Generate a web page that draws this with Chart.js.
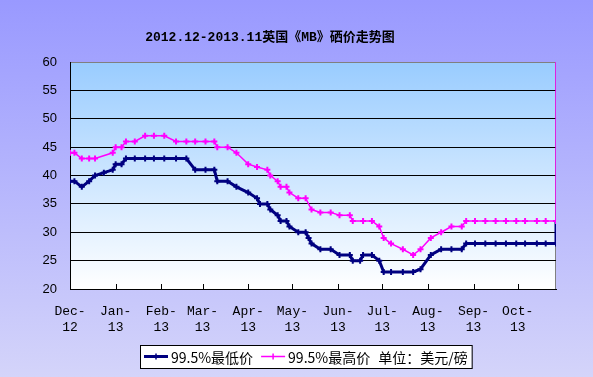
<!DOCTYPE html>
<html>
<head>
<meta charset="utf-8">
<script src="https://cdn.jsdelivr.net/npm/chart.js@4.4.1/dist/chart.umd.min.js"></script>
<style>
  html, body { margin: 0; padding: 0; }
  body {
    width: 593px; height: 377px; overflow: hidden;
    background: linear-gradient(to bottom, #9999ff 0%, #d4d4fa 100%);
  }
  #wrap { position: relative; width: 593px; height: 377px; }
</style>
</head>
<body>
<div id="wrap"><canvas id="seleniumChart"></canvas></div>

<script>
  const chartTitle = "2012.12-2013.11英国《MB》硒价走势图";
  const lowLabel = "99.5%最低价";
  const highLabel = "99.5%最高价";
  const unitText = "单位：美元/磅";

  // quote dates (the last date repeats: the series shoot up at the right edge)
  const dates = [
    "2012-12-01", "2012-12-04", "2012-12-09", "2012-12-14", "2012-12-18", "2012-12-24",
    "2012-12-30", "2013-01-01", "2013-01-05", "2013-01-08", "2013-01-14", "2013-01-21",
    "2013-01-27", "2013-02-03", "2013-02-11", "2013-02-18", "2013-02-24", "2013-03-03",
    "2013-03-09", "2013-03-11", "2013-03-18", "2013-03-24", "2013-04-01", "2013-04-07",
    "2013-04-09", "2013-04-14", "2013-04-16", "2013-04-21", "2013-04-23", "2013-04-27",
    "2013-04-29", "2013-05-05", "2013-05-10", "2013-05-12", "2013-05-14", "2013-05-20",
    "2013-05-27", "2013-06-02", "2013-06-09", "2013-06-11", "2013-06-16", "2013-06-18",
    "2013-06-24", "2013-06-29", "2013-07-02", "2013-07-07", "2013-07-15", "2013-07-22",
    "2013-07-27", "2013-08-03", "2013-08-10", "2013-08-17", "2013-08-24", "2013-08-27",
    "2013-09-02", "2013-09-09", "2013-09-16", "2013-09-23", "2013-09-30", "2013-10-06",
    "2013-10-14", "2013-10-20", "2013-10-27", "2013-10-27"
  ];
  const lowPrice = [
    39, 39, 38, 39, 40, 40.5,
    41, 42, 42, 43, 43, 43,
    43, 43, 43, 43, 41, 41,
    41, 39, 39, 38, 37, 36,
    35, 35, 34, 33, 32, 32,
    31, 30, 30, 29, 28, 27,
    27, 26, 26, 25, 25, 26,
    26, 25, 23, 23, 23, 23,
    23.5, 26, 27, 27, 27, 28,
    28, 28, 28, 28, 28, 28,
    28, 28, 28, 32
  ];
  const highPrice = [
    44, 44, 43, 43, 43, null,
    44, 45, 45, 46, 46, 47,
    47, 47, 46, 46, 46, 46,
    46, 45, 45, 44, 42, 41.5,
    null, 41, 40, 39, 38, 38,
    37, 36, 36, null, 34, 33.5,
    33.5, 33, 33, 32, null, 32,
    32, 31, 29, 28, 27, 26,
    27, 29, 30, 31, 31, 32,
    32, 32, 32, 32, 32, 32,
    32, 32, 32, 62
  ];

  const monthTicks = [
    "2012-12-01", "2013-01-01", "2013-02-01", "2013-03-01", "2013-04-01", "2013-05-01",
    "2013-06-01", "2013-07-01", "2013-08-01", "2013-09-01", "2013-10-01"
  ];
  const monthLabels = [
    ["Dec-", "12"], ["Jan-", "13"], ["Feb-", "13"], ["Mar-", "13"], ["Apr-", "13"], ["May-", "13"],
    ["Jun-", "13"], ["Jul-", "13"], ["Aug-", "13"], ["Sep-", "13"], ["Oct-", "13"]
  ];

  const startDay = Date.UTC(2012, 11, 1);
  function dayOf(s) {
    const [y, m, d] = s.split("-").map(Number);
    return (Date.UTC(y, m - 1, d) - startDay) / 864e5;
  }
  const tickDays = monthTicks.map(dayOf);

  // plot area gradient, grey frame, inward tick marks
  const plotFrame = {
    id: "plotFrame",
    beforeDraw(chart) {
      const { ctx, chartArea: a } = chart;
      const g = ctx.createLinearGradient(0, a.top, 0, a.bottom);
      g.addColorStop(0, "#99ccff");
      g.addColorStop(1, "#ffffff");
      ctx.save();
      ctx.fillStyle = g;
      ctx.fillRect(a.left, a.top, a.right - a.left, a.bottom - a.top);
      ctx.strokeStyle = "#808080";
      ctx.lineWidth = 1;
      ctx.strokeRect(a.left + 0.5, a.top + 0.5, a.right - a.left - 1, a.bottom - a.top);
      ctx.restore();
    },
    beforeDatasetsDraw(chart) {
      const { ctx, chartArea: a, scales } = chart;
      ctx.save();
      ctx.strokeStyle = "#000";
      ctx.lineWidth = 1;
      tickDays.forEach(d => {
        const x = Math.round(scales.x.getPixelForValue(d)) + 0.5;
        ctx.beginPath();
        ctx.moveTo(x, a.bottom);
        ctx.lineTo(x, a.bottom - 5);
        ctx.stroke();
      });
      ctx.restore();
    }
  };

  // title and boxed legend
  const titleAndLegend = {
    id: "titleAndLegend",
    afterDraw(chart) {
      const { ctx } = chart;
      ctx.save();
      ctx.fillStyle = "#000";
      ctx.font = 'bold 13px "Liberation Mono", "Noto Sans CJK SC"';
      ctx.textAlign = "center";
      ctx.textBaseline = "middle";
      ctx.fillText(chartTitle, 270, 38);

      ctx.font = '14px "Noto Sans CJK SC"';
      ctx.textAlign = "left";
      const sets = [chart.data.datasets[0], chart.data.datasets[1]];
      let w = 4;
      sets.forEach(s => { w += 27 + ctx.measureText(s.label).width + 8; });
      w += ctx.measureText(unitText).width + 4;
      const top = 345, h = 23, mid = top + h / 2;
      const left = Math.round(305.5 - w / 2);
      ctx.fillStyle = "#fff";
      ctx.fillRect(left, top, w, h);
      ctx.strokeStyle = "#000";
      ctx.lineWidth = 1;
      ctx.strokeRect(left + 0.5, top + 0.5, w, h);

      let x = left + 4;
      sets.forEach(s => {
        ctx.strokeStyle = s.borderColor;
        ctx.lineWidth = s.borderWidth;
        ctx.beginPath();
        ctx.moveTo(x, mid);
        ctx.lineTo(x + 24, mid);
        ctx.stroke();
        ctx.lineWidth = 1.5;
        ctx.beginPath();
        ctx.moveTo(x + 12, mid - 3);
        ctx.lineTo(x + 12, mid + 3);
        ctx.stroke();
        ctx.fillStyle = "#000";
        ctx.fillText(s.label, x + 27, mid + 1);
        x += 27 + ctx.measureText(s.label).width + 8;
      });
      ctx.fillText(unitText, x, mid + 1);
      ctx.restore();
    }
  };

  function initializeSeleniumChart() {
    const ctx = document.getElementById("seleniumChart").getContext("2d");
    return new Chart(ctx, {
      type: "line",
      data: {
        datasets: [
          {
            label: lowLabel,
            data: dates.map((d, i) => ({ x: dayOf(d), y: lowPrice[i] })),
            borderColor: "#000080",
            backgroundColor: "#000080",
            borderWidth: 3,
            pointStyle: "cross",
            pointRadius: 3,
            pointBorderWidth: 2,
            tension: 0,
            order: 2,
          },
          {
            label: highLabel,
            data: dates.map((d, i) => ({ x: dayOf(d), y: highPrice[i] })),
            borderColor: "#ff00ff",
            backgroundColor: "#ff00ff",
            borderWidth: 1.5,
            pointStyle: "cross",
            pointRadius: 3,
            pointBorderWidth: 2,
            spanGaps: true,
            tension: 0,
            order: 1,
          },
        ],
      },
      options: {
        responsive: true,
        maintainAspectRatio: false,
        animation: false,
        layout: { padding: { top: 62, right: 37, bottom: 0, left: 0 } },
        plugins: {
          legend: { display: false },
          title: { display: false },
          tooltip: { enabled: false },
        },
        scales: {
          x: {
            type: "linear",
            min: 0,
            max: dayOf(dates[dates.length - 1]),
            afterFit: s => { s.height = 88; },
            afterBuildTicks: s => { s.ticks = tickDays.map(v => ({ value: v })); },
            grid: { display: false, drawTicks: false },
            border: { display: true, color: "#000", width: 1 },
            ticks: {
              autoSkip: false,
              maxRotation: 0,
              padding: 15,
              color: "#000",
              font: { family: '"Liberation Mono"', size: 13 },
              callback: v => monthLabels[tickDays.indexOf(v)],
            },
          },
          y: {
            min: 20,
            max: 60,
            afterFit: s => { s.width = 70; },
            grid: {
              drawTicks: false,
              color: c => (c.tick && c.tick.value === 60 ? "#808080" : "#000"),
              lineWidth: 1,
            },
            border: { display: true, color: "#000", width: 1 },
            ticks: {
              stepSize: 5,
              padding: 13,
              color: "#000",
              font: { family: '"Liberation Sans"', size: 13 },
            },
          },
        },
      },
      plugins: [plotFrame, titleAndLegend],
    });
  }

  document.addEventListener("DOMContentLoaded", () => {
    initializeSeleniumChart();
  });
</script>
</body>
</html>
